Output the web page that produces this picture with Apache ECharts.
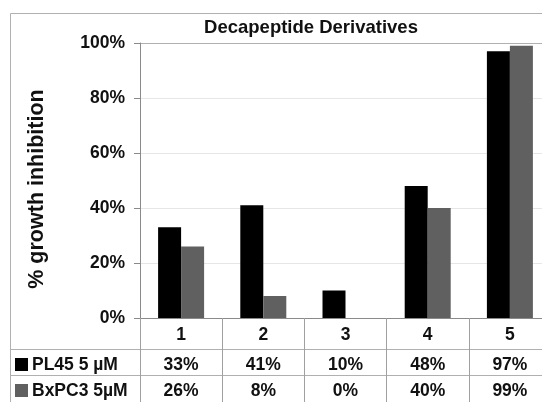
<!DOCTYPE html>
<html><head><meta charset="utf-8">
<script src="https://cdn.jsdelivr.net/npm/echarts@6/dist/echarts.min.js"></script>
<style>html,body{margin:0;padding:0;background:#fff;overflow:hidden;width:542px;height:402px;}#c{width:560px;height:402px;}</style>
</head><body><div id="c"></div>
<script>
var categories = ['1','2','3','4','5'];
var seriesNames = ['PL45 5 µM','BxPC3 5µM'];
var pl45 = [33,41,10,48,97];
var bxpc3 = [26,8,0,40,99];
var yTicks = [0,20,40,60,80,100];
var colors = ['#000000','#606060'];
var FONT = 'Liberation Sans, Arial, sans-serif';

var chart = echarts.init(document.getElementById('c'), null, {renderer:'canvas'});
var base = {
  animation:false,
  textStyle:{fontFamily:FONT},
  grid:{left:140, top:43, width:411, height:275, containLabel:false},
  xAxis:{type:'category', data:categories,
    axisLine:{show:true, lineStyle:{color:'#8a8a8a', width:1}},
    axisTick:{show:true, alignWithLabel:false, length:84, lineStyle:{color:'#a0a0a0'}},
    axisLabel:{margin:8, fontSize:17.5, fontWeight:'bold', color:'#111', fontFamily:FONT},
    splitLine:{show:false}},
  yAxis:{type:'value', min:yTicks[0], max:yTicks[yTicks.length-1], interval:yTicks[1]-yTicks[0],
    axisLine:{show:true, lineStyle:{color:'#8a8a8a'}},
    axisTick:{show:true, length:6, lineStyle:{color:'#8a8a8a'}},
    axisLabel:{margin:15, fontSize:17.5, fontWeight:'bold', color:'#111', fontFamily:FONT,
      formatter:function(v){return v+'%';}},
    splitLine:{show:true, lineStyle:{color:['#e6e6e6','#e6e6e6','#e6e6e6','#e6e6e6','#e6e6e6','#b0b0b0']}}},
  series:[
    {name:seriesNames[0], type:'bar', data:pl45, barWidth:23, barGap:'0%', itemStyle:{color:colors[0]}},
    {name:seriesNames[1], type:'bar', data:bxpc3, barWidth:23, barGap:'0%', itemStyle:{color:colors[1]}}
  ]
};
chart.setOption(base);

var g = [];
// outer frame
g.push({type:'line', shape:{x1:10.5,y1:13.5,x2:560,y2:13.5}, style:{stroke:'#b0b0b0', lineWidth:1}});
g.push({type:'line', shape:{x1:10.5,y1:13.5,x2:10.5,y2:410}, style:{stroke:'#b0b0b0', lineWidth:1}});
// title
g.push({type:'text', x:311, y:28, style:{text:'Decapeptide Derivatives', fontFamily:FONT, fontWeight:'bold', fontSize:18.5, fill:'#111', align:'center', verticalAlign:'middle'}});
// y axis name
g.push({type:'text', x:37, y:189, rotation:Math.PI/2, style:{text:'% growth inhibition', fontFamily:FONT, fontWeight:'bold', fontSize:21.5, fill:'#111', align:'center', verticalAlign:'middle'}});
// table row lines
[349.5, 375.5].forEach(function(y){
  g.push({type:'line', shape:{x1:10,y1:y,x2:560,y2:y}, style:{stroke:'#b0b0b0', lineWidth:1}});
});
var rows = [pl45, bxpc3];
var rowY = [365, 391];
rows.forEach(function(arr, r){
  g.push({type:'rect', shape:{x:15, y:rowY[r]-7, width:13, height:13}, style:{fill:colors[r]}});
  g.push({type:'text', x:32, y:rowY[r], style:{text:seriesNames[r], fontFamily:FONT, fontWeight:'bold', fontSize:17.5, fill:'#111', align:'left', verticalAlign:'middle'}});
  arr.forEach(function(v, i){
    var px = chart.convertToPixel({xAxisIndex:0}, categories[i]);
    g.push({type:'text', x:px, y:rowY[r], style:{text:v+'%', fontFamily:FONT, fontWeight:'bold', fontSize:17.5, fill:'#111', align:'center', verticalAlign:'middle'}});
  });
});
chart.setOption({graphic:g});
</script></body></html>
